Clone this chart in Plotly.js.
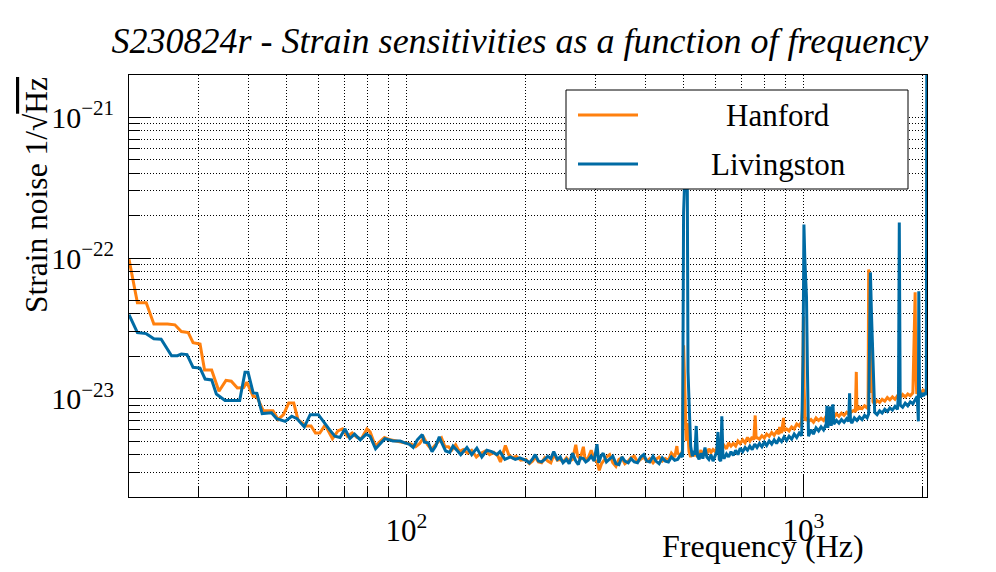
<!DOCTYPE html>
<html>
<head>
<meta charset="utf-8">
<script src="https://cdn.plot.ly/plotly-3.0.1.min.js"></script>
<style>
html, body { margin: 0; padding: 0; background: #fff; }
#plot { width: 996px; height: 572px; }
</style>
</head>
<body>
<div id="plot"></div>
<script>
// strain ASD; frequency in Hz, strain in units of 1e-24 /sqrt(Hz)
var hanfordFreq = [20.0,21.0,22.1,23.1,25.0,26.1,27.1,28.2,29.0,30.2,31.0,32.3,33.7,35.1,36.2,37.5,38.9,39.6,41.1,42.0,43.6,46.1,47.5,49.0,50.5,52.0,53.3,56.0,57.5,59.0,60.5,62.4,65.1,67.2,69.0,
  71,73,75,77,79.5,81,83.5,86,88,91,94,97,100,103,105.5,108,110.5,113,115.5,118,120.5,122.6,125,127.6,130,133,136,139,142.5,146,150,154,158,162,166,170,172.5,175,177.5,181,185,189,194,
  200,204,208,211,215,219,223,227,231,235, 240,244,248,253,257,262,267,270,274,279, 282,287,292,297,302,306,310,313,319,325,
  331,337,343,349,355,362,368,375,382,389, 396,403,410,418,425,433,441,449,457,465, 474,480,482,491,496,499,503,507,510,515,
  520,525,530,535,541,546,552,558,565,571, 578,585,592,600,607,615,623,631,640,648, 657,666,675,684,693,703,713,723,733,743,
  750,756,760,764,775,786,797,808,820,832, 844,856,868,871,881,891,894,907,920,934, 948,962,976,990,995,1000,1004,1010,1021,1030,
  1045,1060,1076,1092,1108,1124,1141,1158,1175,1193, 1211,1229,1247,1266,1285,1304,1324,1344,1352,1359, 1364,1384,1405,1426,1447,1455,1460,1466,1472,1480,
  1490,1497,1510,1533,1556,1579,1603,1627,1651,1676, 1701,1726,1752,1778,1805,1832,1859,1887,1900,1912, 1920,1930,1944,1973,2003,2033,2045];
var hanfordStrain = [98,48,48,34,34,33.5,30,29.5,25,24.5,16,16,11.3,13.5,13.3,11.9,12,13.1,10.4,10.3,8.2,8.2,7.1,7.7,9.3,9.3,7.1,6.4,6.4,5.7,5.7,6.5,5.2,5.9,6.1,
  5.4,5.7,5.3,5.2,6.1,5.8,4.6,5.0,5.3,5.1,5.0,4.9,4.8,4.75,4.55,4.8,5.3,4.7,4.35,4.65,5.0,5.25,4.55,4.55,4.3,4.7,4.2,4.35,4.1,4.3,3.85,4.1,4.25,4.0,4.15,3.9,3.55,4.0,4.65,4.0,3.8,3.9,3.65,
  3.7,3.45,3.6,3.85,3.55,3.5,3.8,3.6,3.5,4.0, 3.65,3.7,3.55,3.8,3.6,3.7,4.7,3.9,3.75,4.55, 3.65,3.8,4.3,3.7,3.55,3.1,3.45,3.6,3.85,4.0,
  3.5,3.3,3.7,3.8,3.45,3.6,3.8,3.9,3.55,3.7, 3.85,3.6,3.75,3.5,3.7,3.85,3.6,3.75,3.65,4.1, 3.85,4.6,4.1,3.95,4.3,24,10,5.0,6.7,4.2,
  3.85,4.15,3.9,4.2,3.85,4.1,4.3,3.95,4.3,4.05, 4.4,4.15,4.35,4.2,4.55,4.3,4.5,4.65,4.4,4.85, 4.6,4.8,4.6,5.0,4.8,5.1,4.85,5.3,5.0,5.35,
  5.1,7.6,5.2,5.3,5.15,5.45,5.25,5.6,5.4,5.75, 5.5,5.85,5.6,6.3,5.7,7.3,5.9,6.1,5.9,6.3, 6.1,6.6,6.4,6.9,8.5,38.4,12,7.0,7.2,6.9,
  7.1,6.8,7.3,7.0,7.25,7.0,7.5,7.2,7.6,7.35, 7.8,7.5,7.9,7.6,8.0,7.75,8.1,8.3,8.0,15.5, 8.3,8.7,8.5,8.9,8.6,9.0,83,40,12,11,
  25,9.5,9.2,9.7,9.4,9.9,9.6,10.2,9.8,10.3, 9.9,10.5,10.1,10.7,10.3,10.8,10.5,11.0,35,57, 15,10.8,11.3,10.9,11.5,11.1,11.8];

var livingstonFreq = [20.0,21.0,22.1,23.1,24.1,25.6,26.5,27.1,28.0,29.0,30.2,31.1,32.3,33.2,34.9,38.0,39.2,39.9,41.1,42.0,43.3,44.5,45.7,47.1,49.5,51.4,53.0,55.3,57.2,60.0,61.9,63.5,66.0,68.0,70.0,
  72,74,76.5,79.2,81,83.6,85.8,88.2,92.5,96.4,99,101.5,104,106.5,109.6,111,113.5,116,118.5,121,122.5,125.5,128.5,131,134.5,137,142,146,150.4,154.8,159.4,164,169,172,177,182.6,188,193,
  200,204,208,211,215,219,223,227,231,235, 240,244,248,253,257,262,267,271,274,279, 283,287,292,297,302,305,309,313,319,325,
  331,337,343,349,355,362,368,375,382,389, 396,403,410,418,425,433,441,449,457,465, 474,482,491,496,499,503,507,510,512,516,
  520,525,530,533,537,541,546,552,558,565, 571,578,585,592,600,605,609,614,619,623, 627,631,640,648,657,666,675,684,693,703,
  713,723,733,743,754,764,775,786,797,808, 820,832,844,856,868,881,894,907,920,934, 948,962,976,990,998,1003,1008,1012,1018,1024,
  1030,1045,1060,1076,1092,1108,1124,1141,1146,1152, 1168,1175,1187,1193,1211,1229,1247,1266,1285,1300, 1307,1314,1324,1344,1364,1384,1405,1426,1447,1460,
  1466,1475,1484,1495,1503,1512,1533,1556,1579,1603, 1627,1651,1676,1701,1726,1736,1744,1753,1778,1805, 1832,1859,1887,1915,1935,1948,1953,1960,1973,1988,
  2003,2020,2035,2040,2046];
var livingstonStrain = [39.5,29.5,29,26.7,26.5,20.2,20.2,20.8,20.6,16.7,16.5,13.8,13.6,10.8,9.7,9.7,15.4,15.4,11,10.9,7.84,7.9,7.95,7.2,6.9,7.5,7.2,6.3,7.7,7.7,6.8,6.2,5.42,5.3,6.1,
  5.2,5.6,5.1,5.6,5.4,4.4,4.8,5.2,5.0,5.0,4.85,4.75,4.5,5.1,5.55,4.9,4.85,4.2,4.6,5.35,4.9,4.25,4.15,4.6,4.25,4.0,4.5,4.0,4.45,3.85,4.3,4.2,4.0,4.2,3.7,3.85,3.7,3.8,
  3.65,3.5,3.75,4.0,3.6,3.55,3.7,3.9,3.75,4.2, 3.7,3.85,3.5,3.7,3.45,4.1,3.6,3.4,3.8,3.75, 3.55,3.65,3.9,3.6,4.75,3.5,3.9,4.1,3.55,3.75,
  3.9,3.45,3.4,3.85,3.6,3.5,3.75,3.55,3.5,3.85, 4.0,3.6,3.55,3.9,3.6,3.45,3.8,3.6,3.55,3.85, 3.65,3.7,4.0,3.85,210,400,600,300,15.6,8.3,
  4.6,3.9,4.25,4.0,6.4,3.9,3.7,4.1,3.75,4.5, 3.85,3.7,4.0,3.6,3.9,4.2,5.8,3.7,3.6,7.5, 3.9,3.75,4.05,3.85,4.2,3.95,4.3,4.0,4.45,4.2,
  4.5,4.3,4.6,4.35,4.75,4.5,4.8,4.55,4.9,4.65, 5.0,4.75,5.1,4.8,5.2,4.95,5.35,5.05,5.4,5.15, 5.6,5.3,5.7,5.45,20,173,100,67,53,15,
  5.4,6.0,5.6,6.2,5.9,6.3,6.0,6.6,8.9,6.2, 8.8,6.4,9.1,6.6,7.0,6.7,7.1,6.8,7.2,6.9, 10.9,7.0,6.7,7.3,7.0,7.4,7.1,7.6,7.3,7.8,
  25,79,40,19,14,8.0,7.7,8.2,7.9,8.4, 8.1,8.6,8.3,8.8,8.4,11,179,9.0,8.7,9.3, 8.9,9.5,9.2,9.9,10.4,6.9,58,12,10.2,11.0,
  10.4,11.0,10.6,12,5000];
var strainUnit = 1e-24;

var xMajorTicks = [100, 1000];
var xMajorLabels = ['10<sup>2</sup>', '10<sup>3</sup>'];
var xMinorTicks = [20,30,40,50,60,70,80,90,200,300,400,500,600,700,800,900,2000];
var yMajorTicks = [1e-23, 1e-22, 1e-21];
var yMajorLabels = ['10<sup>\u221223</sup>', '10<sup>\u221222</sup>', '10<sup>\u221221</sup>'];
var yMinorTicks = [2e-24,3e-24,4e-24,5e-24,6e-24,7e-24,8e-24,9e-24,
  2e-23,3e-23,4e-23,5e-23,6e-23,7e-23,8e-23,9e-23,
  2e-22,3e-22,4e-22,5e-22,6e-22,7e-22,8e-22,9e-22,2e-21];

var orange = '#ff800e';
var blue = '#006ba4';
var serif = 'Liberation Serif';

function toStrain(arr) {
  return arr.map(function (v) { return v * strainUnit; });
}

var traces = [
  {x: hanfordFreq, y: toStrain(hanfordStrain), type: 'scatter', mode: 'lines', name: 'Hanford',
   line: {color: orange, width: 3}},
  {x: livingstonFreq, y: toStrain(livingstonStrain), type: 'scatter', mode: 'lines', name: 'Livingston',
   line: {color: blue, width: 3}}
];

var gridStyle = {showgrid: true, gridcolor: '#000', gridwidth: 1, griddash: '1px,2px'};

var layout = {
  width: 996, height: 572,
  margin: {l: 129, r: 69, t: 75, b: 75},
  paper_bgcolor: '#fff', plot_bgcolor: '#fff',
  showlegend: false,
  font: {family: serif, color: '#000'},
  title: {
    text: 'S230824r - Strain sensitivities as a function of frequency',
    font: {family: serif, size: 36, style: 'italic', color: '#000'},
    x: 0.522, xanchor: 'center', y: 0.93, yanchor: 'middle'
  },
  xaxis: Object.assign({
    type: 'log',
    range: [Math.log10(20), Math.log10(2048)],
    tickmode: 'array', tickvals: xMajorTicks, ticktext: xMajorLabels,
    ticks: 'inside', ticklen: 22, tickwidth: 1, tickcolor: '#000',
    ticklabelstandoff: 6,
    tickfont: {family: serif, size: 31, color: '#000'},
    showline: true, mirror: true, linecolor: '#000', linewidth: 1,
    zeroline: false,
    minor: Object.assign({tickmode: 'array', tickvals: xMinorTicks, ticks: 'inside', ticklen: 11, tickcolor: '#000'}, gridStyle)
  }, gridStyle),
  yaxis: Object.assign({
    type: 'log',
    range: [Math.log10(2e-24), Math.log10(2e-21)],
    tickmode: 'array', tickvals: yMajorTicks, ticktext: yMajorLabels,
    ticks: 'inside', ticklen: 22, tickwidth: 1, tickcolor: '#000',
    ticklabelstandoff: 8,
    tickfont: {family: serif, size: 30, color: '#000'},
    showline: true, mirror: true, linecolor: '#000', linewidth: 1,
    zeroline: false,
    minor: Object.assign({tickmode: 'array', tickvals: yMinorTicks, ticks: 'inside', ticklen: 11, tickcolor: '#000'}, gridStyle)
  }, gridStyle),
  shapes: [
    // legend box and its line samples
    {type: 'rect', xref: 'paper', yref: 'paper', layer: 'above',
     x0: (566 - 129) / 798, x1: (908 - 129) / 798, y0: (497 - 189) / 422, y1: (497 - 90) / 422,
     line: {color: '#000', width: 1}, fillcolor: '#fff'},
    {type: 'line', xref: 'paper', yref: 'paper', layer: 'above',
     x0: (578 - 129) / 798, x1: (638 - 129) / 798, y0: (497 - 115) / 422, y1: (497 - 115) / 422,
     line: {color: orange, width: 3}},
    {type: 'line', xref: 'paper', yref: 'paper', layer: 'above',
     x0: (578 - 129) / 798, x1: (638 - 129) / 798, y0: (497 - 164) / 422, y1: (497 - 164) / 422,
     line: {color: blue, width: 3}}
  ],
  annotations: [
    {text: 'Hanford', xref: 'paper', yref: 'paper', x: (778 - 129) / 798, y: (497 - 115) / 422,
     xanchor: 'center', yanchor: 'middle', showarrow: false, font: {family: serif, size: 31, color: '#000'}},
    {text: 'Livingston', xref: 'paper', yref: 'paper', x: (778 - 129) / 798, y: (497 - 164) / 422,
     xanchor: 'center', yanchor: 'middle', showarrow: false, font: {family: serif, size: 31, color: '#000'}},
    {text: 'Frequency (Hz)', xref: 'paper', yref: 'paper', x: (866 - 129) / 798, y: (497 - 546) / 422,
     xanchor: 'right', yanchor: 'middle', showarrow: false, font: {family: serif, size: 32, color: '#000'}},
    {text: 'Strain noise 1/\u221a<span style="text-decoration:overline">Hz</span>', xref: 'paper', yref: 'paper',
     x: (36 - 129) / 798, y: 1, textangle: -90,
     xanchor: 'center', yanchor: 'top', showarrow: false, font: {family: serif, size: 31.5, color: '#000'}}
  ]
};

Plotly.newPlot('plot', traces, layout, {staticPlot: true, displayModeBar: false});
</script>
</body>
</html>
